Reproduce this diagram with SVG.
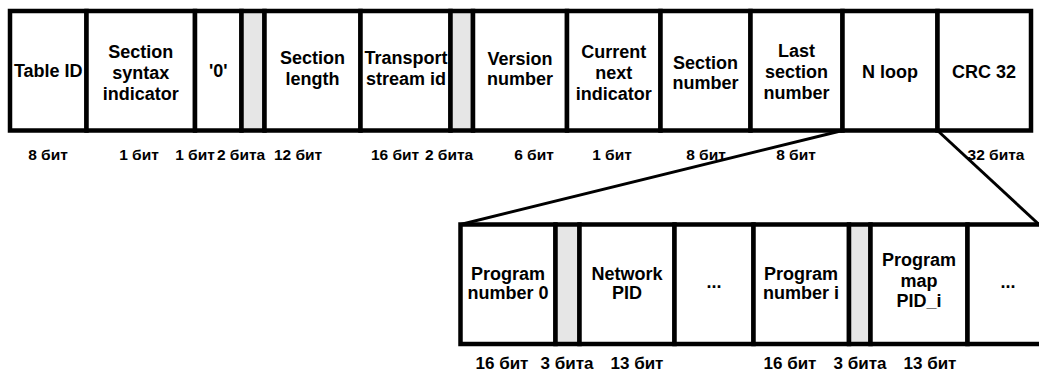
<svg xmlns="http://www.w3.org/2000/svg" width="1039" height="373" viewBox="0 0 1039 373">
<style>
.c{fill:#fff;stroke:#000;stroke-width:4.5}
.g{fill:#e6e6e6;stroke:#000;stroke-width:4.5}
.t{font-family:"Liberation Sans",Arial,sans-serif;font-weight:bold;font-size:18px;text-anchor:middle;fill:#000}
.l{font-family:"Liberation Sans",Arial,sans-serif;font-weight:bold;font-size:15.5px;text-anchor:middle;fill:#000}
.b{font-family:"Liberation Sans",Arial,sans-serif;font-weight:bold;font-size:17px;text-anchor:middle;fill:#000}
.k{stroke:#000;stroke-width:3;fill:none}
</style>
<rect width="1039" height="373" fill="#fff"/>
<g id="connectors">
<line class="k" x1="842.5" y1="130.5" x2="460.5" y2="224.5"/>
<line class="k" x1="937.5" y1="130.5" x2="1039" y2="224.5"/>
</g>
<g id="table-id"><rect class="c" x="10" y="11" width="76.5" height="119.5"/><text class="t" x="48.25" y="77">Table ID</text></g>
<g id="section-syntax-indicator"><rect class="c" x="86.5" y="11" width="108.5" height="119.5"/><text class="t" x="140.75" y="58">Section</text><text class="t" x="140.75" y="79">syntax</text><text class="t" x="140.75" y="100">indicator</text></g>
<g id="zero"><rect class="c" x="195" y="11" width="46.5" height="119.5"/><text class="t" x="218.25" y="77">'0'</text></g>
<g id="reserved1"><rect class="g" x="241.5" y="11" width="23" height="119.5"/></g>
<g id="section-length"><rect class="c" x="264.5" y="11" width="96" height="119.5"/><text class="t" x="312.5" y="64">Section</text><text class="t" x="312.5" y="85">length</text></g>
<g id="transport-stream-id"><rect class="c" x="360.5" y="11" width="90" height="119.5"/><text class="t" x="406" y="64">Transport</text><text class="t" x="406" y="85">stream id</text></g>
<g id="reserved2"><rect class="g" x="450.5" y="11" width="22.5" height="119.5"/></g>
<g id="version-number"><rect class="c" x="473" y="11" width="94" height="119.5"/><text class="t" x="520" y="65">Version</text><text class="t" x="520" y="85">number</text></g>
<g id="current-next-indicator"><rect class="c" x="567" y="11" width="93.5" height="119.5"/><text class="t" x="613.75" y="58">Current</text><text class="t" x="613.75" y="79">next</text><text class="t" x="613.75" y="100">indicator</text></g>
<g id="section-number"><rect class="c" x="660.5" y="11" width="90" height="119.5"/><text class="t" x="705.5" y="69">Section</text><text class="t" x="705.5" y="89">number</text></g>
<g id="last-section-number"><rect class="c" x="750.5" y="11" width="92" height="119.5"/><text class="t" x="796.5" y="57">Last</text><text class="t" x="796.5" y="78">section</text><text class="t" x="796.5" y="99">number</text></g>
<g id="n-loop"><rect class="c" x="842.5" y="11" width="95" height="119.5"/><text class="t" x="890" y="78">N loop</text></g>
<g id="crc32"><rect class="c" x="937.5" y="11" width="93.5" height="119.5"/><text class="t" x="984" y="78">CRC 32</text></g>
<g id="top-labels">
<text class="l" x="48" y="160">8 бит</text>
<text class="l" x="139" y="160">1 бит</text>
<text class="l" x="195" y="160">1 бит</text>
<text class="l" x="241" y="160">2 бита</text>
<text class="l" x="298" y="160">12 бит</text>
<text class="l" x="395" y="160">16 бит</text>
<text class="l" x="449" y="160">2 бита</text>
<text class="l" x="534" y="160">6 бит</text>
<text class="l" x="612" y="160">1 бит</text>
<text class="l" x="706" y="160">8 бит</text>
<text class="l" x="796" y="160">8 бит</text>
<text class="l" x="996" y="160">32 бита</text>
</g>
<g id="program-number-0"><rect class="c" x="460.5" y="224.5" width="95" height="119.5"/><text class="t" x="508" y="280">Program</text><text class="t" x="508" y="299">number 0</text></g>
<g id="reserved3"><rect class="g" x="555.5" y="224.5" width="24" height="119.5"/></g>
<g id="network-pid"><rect class="c" x="579.5" y="224.5" width="95" height="119.5"/><text class="t" x="627" y="280">Network</text><text class="t" x="627" y="299">PID</text></g>
<g id="ellipsis1"><rect class="c" x="674.5" y="224.5" width="79" height="119.5"/><text class="t" x="714" y="288">...</text></g>
<g id="program-number-i"><rect class="c" x="753.5" y="224.5" width="95.5" height="119.5"/><text class="t" x="801" y="280">Program</text><text class="t" x="801" y="299">number i</text></g>
<g id="reserved4"><rect class="g" x="849" y="224.5" width="21.5" height="119.5"/></g>
<g id="program-map-pid-i"><rect class="c" x="870.5" y="224.5" width="97" height="119.5"/><text class="t" x="919" y="266">Program</text><text class="t" x="919" y="287">map</text><text class="t" x="919" y="307">PID_i</text></g>
<g id="ellipsis2"><rect class="c" x="967.5" y="224.5" width="85" height="119.5"/><text class="t" x="1008" y="288">...</text></g>
<g id="bottom-labels">
<text class="b" x="502" y="369">16 бит</text>
<text class="b" x="567" y="369">3 бита</text>
<text class="b" x="637" y="369">13 бит</text>
<text class="b" x="790" y="369">16 бит</text>
<text class="b" x="860" y="369">3 бита</text>
<text class="b" x="930" y="369">13 бит</text>
</g>
</svg>
